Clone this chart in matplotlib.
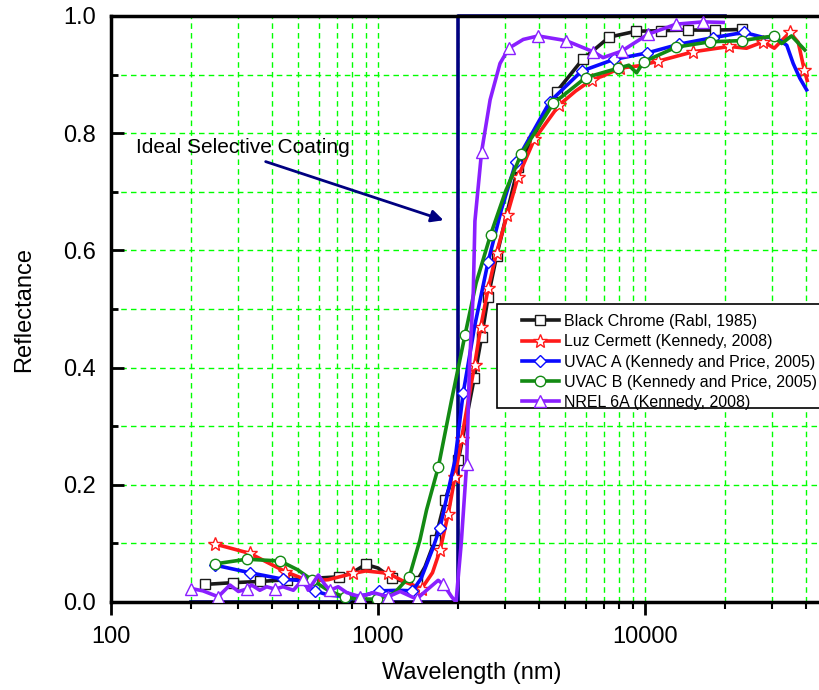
import numpy as np
import matplotlib
matplotlib.use("Agg")
from matplotlib import pyplot as plt
from matplotlib.patches import Rectangle
from matplotlib.ticker import FixedLocator, LogLocator, FormatStrFormatter, NullFormatter

plt.rcParams.update({
    'font.family': ['Liberation Sans', 'DejaVu Sans'],
    'font.size': 16,
})

# Ideal selective coating (step at 2000 nm)
ideal_wl = [200, 2000, 2000, 20000]
ideal_refl = [0.0, 0.0, 1.0, 1.0]

# Black Chrome (Rabl, 1985)
bc_wl = [225, 286, 361, 455, 550, 716, 800, 899, 1000, 1125, 1250, 1396, 1500, 1634, 1784,
         2000, 2293, 2443, 2586, 2780, 3350, 4050, 4670, 5840, 7350, 9250, 11530, 14520, 18280, 23000]
bc_refl = [0.030, 0.033, 0.035, 0.038, 0.040, 0.043, 0.050, 0.064, 0.058, 0.041, 0.035, 0.035, 0.060,
           0.105, 0.174, 0.242, 0.382, 0.452, 0.521, 0.590, 0.743, 0.817, 0.871, 0.926, 0.964, 0.974,
           0.975, 0.976, 0.976, 0.977]
bc_marks = [0, 1, 2, 3, 5, 7, 9, 11, 13, 14, 15, 16, 17, 18, 19, 20, 22, 23, 24, 25, 26, 27, 28, 29]

# Luz Cermett (Kennedy, 2008)
lc_wl = [245, 331, 449, 550, 650, 809, 900, 1093, 1250, 1458, 1600, 1707, 1834, 1943, 2056, 2300,
         2427, 2586, 2780, 3049, 3350, 3856, 4767, 5500, 6310, 7000, 8050, 9500, 11220, 15170, 20700,
         24000, 27750, 30500, 32500, 34900, 37500, 39500, 40500]
lc_refl = [0.099, 0.083, 0.052, 0.036, 0.038, 0.049, 0.053, 0.049, 0.035, 0.023, 0.050, 0.088, 0.151,
           0.214, 0.279, 0.404, 0.470, 0.535, 0.596, 0.661, 0.726, 0.790, 0.848, 0.872, 0.891, 0.898,
           0.911, 0.915, 0.923, 0.939, 0.948, 0.945, 0.956, 0.945, 0.958, 0.972, 0.955, 0.908, 0.890]
lc_marks = [0, 1, 2, 5, 7, 9, 11, 12, 13, 14, 15, 16, 17, 18, 19, 20, 21, 22, 24, 26, 28, 29, 30, 32, 35, 37]

# UVAC A (Kennedy and Price, 2005)
ua_wl = [245, 331, 440, 500, 580, 650, 764, 900, 1012, 1200, 1346, 1450, 1600, 1707, 1943, 2084,
         2300, 2586, 2900, 3288, 4405, 5790, 7660, 10200, 13460, 17940, 23500, 28000, 30500, 33970,
         35900, 38000, 40300]
ua_refl = [0.063, 0.050, 0.039, 0.037, 0.019, 0.012, 0.009, 0.012, 0.019, 0.020, 0.019, 0.040, 0.090,
           0.127, 0.242, 0.356, 0.470, 0.581, 0.670, 0.751, 0.854, 0.906, 0.926, 0.937, 0.952, 0.963,
           0.972, 0.963, 0.965, 0.950, 0.919, 0.894, 0.874]
ua_marks = [0, 1, 2, 4, 6, 8, 10, 13, 15, 17, 19, 20, 21, 22, 23, 24, 25, 26]

# UVAC B (Kennedy and Price, 2005)
ub_wl = [245, 322, 430, 500, 565, 650, 752, 850, 993, 1150, 1310, 1436, 1520, 1684, 1887, 2119, 2330,
         2642, 3000, 3435, 4540, 6000, 7950, 8700, 9300, 9900, 13120, 17500, 23000, 30450, 32500,
         35400, 39700]
ub_refl = [0.065, 0.073, 0.070, 0.055, 0.038, 0.020, 0.008, 0.005, 0.005, 0.015, 0.043, 0.106, 0.157,
           0.231, 0.345, 0.456, 0.544, 0.627, 0.700, 0.764, 0.851, 0.895, 0.911, 0.916, 0.903, 0.922,
           0.947, 0.956, 0.958, 0.966, 0.953, 0.966, 0.942]
ub_marks = [0, 1, 2, 4, 6, 8, 10, 13, 15, 17, 19, 20, 21, 22, 25, 26, 27, 28, 29]

# NREL 6A (Kennedy, 2008)
nr_wl = [200, 221, 252, 279, 300, 322, 336, 361, 383, 411, 441, 482, 524, 548, 580, 598, 632, 661,
         709, 764, 857, 960, 1093, 1210, 1396, 1520, 1680, 1759, 1887, 1960, 2050, 2148, 2200, 2275,
         2307, 2443, 2630, 2864, 3090, 3500, 3980, 5060, 6400, 6966, 8170, 10280, 13060, 16520, 19620]
nr_refl = [0.023, 0.019, 0.009, 0.029, 0.018, 0.022, 0.029, 0.020, 0.026, 0.022, 0.026, 0.020, 0.039,
           0.020, 0.037, 0.046, 0.030, 0.020, 0.026, 0.016, 0.009, 0.016, 0.009, 0.018, 0.005, 0.020,
           0.037, 0.030, 0.009, 0.000, 0.100, 0.235, 0.400, 0.530, 0.650, 0.768, 0.857, 0.919, 0.945,
           0.960, 0.966, 0.958, 0.939, 0.929, 0.940, 0.969, 0.986, 0.990, 0.989]
nr_marks = [0, 2, 5, 9, 12, 17, 20, 22, 24, 27, 31, 35, 38, 40, 41, 42, 44, 45, 46, 47]

series = [
    (bc_wl, bc_refl, bc_marks, '#1a1a1a', 's', 'Black Chrome (Rabl, 1985)'),
    (lc_wl, lc_refl, lc_marks, '#ff1a1a', '*', 'Luz Cermett (Kennedy, 2008)'),
    (ua_wl, ua_refl, ua_marks, '#0a0aff', 'D', 'UVAC A (Kennedy and Price, 2005)'),
    (ub_wl, ub_refl, ub_marks, '#138a13', 'o', 'UVAC B (Kennedy and Price, 2005)'),
    (nr_wl, nr_refl, nr_marks, '#8a1fff', '^', 'NREL 6A (Kennedy, 2008)'),
]

W, H = 819, 690
fig = plt.figure(figsize=(W / 100, H / 100), dpi=100)
ax = fig.add_axes([111 / W, 88 / H, 720.6 / W, 586 / H])

ax.plot(ideal_wl, ideal_refl, color='#000080', lw=2.6, zorder=2, clip_on=False)

sizes = {'s': 7.5, '*': 10.5, 'D': 6.5, 'o': 7.5, '^': 8.5}
for wl, refl, marks, col, mk, lab in series:
    ax.plot(wl, refl, color=col, lw=2.6, marker=mk, markevery=marks, markersize=sizes[mk],
            markerfacecolor='white', markeredgecolor=col, markeredgewidth=1.0, label=lab, zorder=3)

ax.set_xscale('log')
ax.set_xlim(100, 50000)
ax.set_ylim(0, 1.0)

ax.xaxis.set_major_locator(FixedLocator([100, 1000, 10000]))
ax.xaxis.set_major_formatter(FormatStrFormatter('%d'))
ax.xaxis.set_minor_locator(LogLocator(base=10, subs=np.arange(2, 10)))
ax.xaxis.set_minor_formatter(NullFormatter())
ax.yaxis.set_major_locator(FixedLocator(np.arange(0, 1.01, 0.2)))
ax.yaxis.set_minor_locator(FixedLocator(np.arange(0.1, 1.0, 0.2)))
ax.yaxis.set_major_formatter(FormatStrFormatter('%.1f'))

ax.grid(True, which='both', color='#00ff00', linestyle=(0, (4, 3)), lw=1.0, zorder=0)
ax.set_axisbelow(True)

for s in ['left', 'bottom', 'top']:
    ax.spines[s].set_linewidth(2.5)
ax.spines['right'].set_visible(False)

ax.tick_params(axis='y', which='major', direction='in', length=9, width=2, labelsize=17, pad=11)
ax.tick_params(axis='y', which='minor', direction='in', length=5, width=2)
ax.tick_params(axis='x', which='major', direction='out', length=9, width=2, labelsize=17, pad=8)
ax.tick_params(axis='x', which='minor', direction='out', length=5, width=1.5)

ax.set_xlabel('Wavelength (nm)', fontsize=17, labelpad=10)
ax.set_ylabel('Reflectance', fontsize=17, labelpad=20)

# annotation for the ideal curve
ax.text(124, 0.776, 'Ideal Selective Coating', fontsize=15, va='center', ha='left')
ax.annotate('', xy=(1800, 0.650), xytext=(371, 0.753),
            arrowprops=dict(arrowstyle='-|>', color='#000080', lw=2, mutation_scale=18))

# legend with its own white frame
fig.patches.append(Rectangle((497 / W, (H - 408) / H), 340 / W, 104 / H, transform=fig.transFigure,
                             facecolor='white', edgecolor='black', lw=1.2, clip_on=False, zorder=3))
leg = fig.legend(loc='upper left', bbox_to_anchor=(522 / W, (H - 314) / H), frameon=False,
                 fontsize=11.5, handlelength=2.3, handletextpad=0.35, labelspacing=0.33,
                 borderpad=0, borderaxespad=0)
leg.set_zorder(4)

fig.savefig('out.png', dpi=100)
